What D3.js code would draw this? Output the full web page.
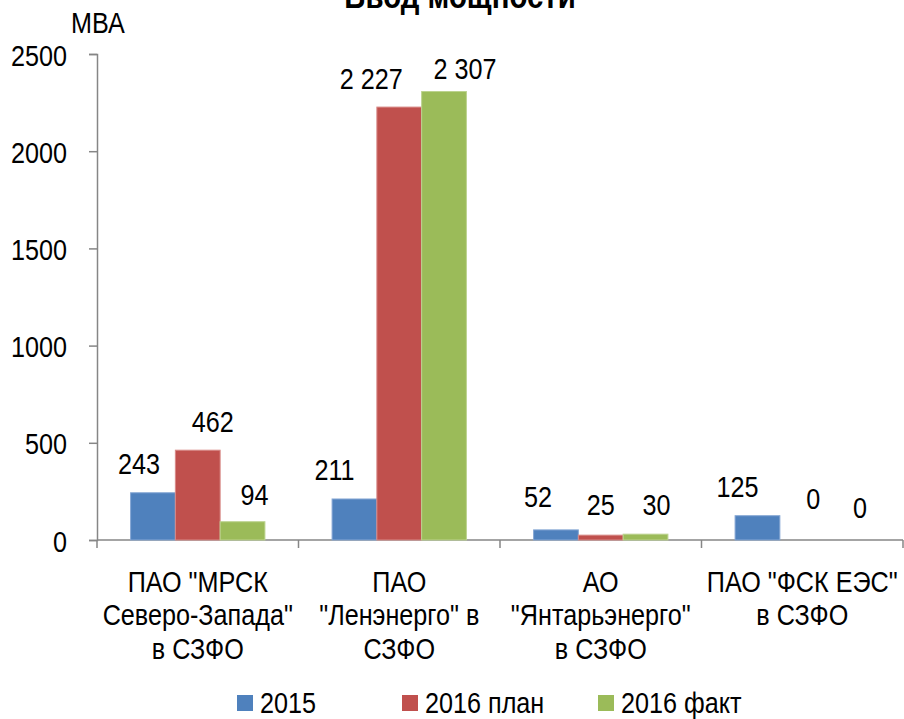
<!DOCTYPE html>
<html>
<head>
<meta charset="utf-8">
<script src="https://cdn.jsdelivr.net/npm/d3@7"></script>
<style>
  body { margin: 0; background: #fff; }
  svg text { font-family: "Liberation Sans", Arial, sans-serif; fill: #000; }
</style>
</head>
<body>
<svg id="chart" width="904" height="719"></svg>
<script>
// data
const companies = [
  ['ПАО "МРСК', 'Северо-Запада"', 'в СЗФО'],
  ['ПАО', '"Ленэнерго" в', 'СЗФО'],
  ['АО', '"Янтарьэнерго"', 'в СЗФО'],
  ['ПАО "ФСК ЕЭС"', 'в СЗФО']
];
const seriesNames = ['2015', '2016 план', '2016 факт'];
const values2015 = [243, 211, 52, 125];
const valuesPlan = [462, 2227, 25, 0];
const valuesFact = [94, 2307, 30, 0];
const yTicks = [0, 500, 1000, 1500, 2000, 2500];

// hand-placed label nudges in the original, [dx, dy] per bar
const labelNudge = [
  [[-14, 0], [15, 1], [12, 2]],
  [[-20, 0], [-28, 1], [21, 6]],
  [[-18, -4], [0, -1], [11, 0]],
  [[-20, 0], [11, -12], [13, -3]]
];

const colors = ['#4F81BD', '#C0504D', '#9BBB59'];
const edges = ['#86a7d4', '#d88b89', '#bcd38f'];

const width = 904, height = 719;
const margin = { top: 54, right: 1, bottom: 179, left: 97 };
const sx = 0.84;      // the source font is a narrow face
const fs = '30px';

const svg = d3.select('#chart');

// put a text at (x, y) squeezed horizontally
function narrow(sel, x, y) {
  sel.attr('x', 0).attr('y', 0)
    .attr('transform', `translate(${x},${y}) scale(${sx},1)`);
  return sel;
}

const x0 = d3.scaleBand()
  .domain(d3.range(companies.length))
  .range([margin.left, width - margin.right])
  .paddingInner(1 / 3)
  .paddingOuter(1 / 6);

const x1 = d3.scaleBand()
  .domain(d3.range(seriesNames.length))
  .range([0, x0.bandwidth()]);

const y = d3.scaleLinear()
  .domain([0, 2500])
  .range([height - margin.bottom, margin.top]);

const series = [values2015, valuesPlan, valuesFact];

// title (cut off at the top like the source)
svg.append('text')
  .attr('text-anchor', 'middle')
  .style('font-size', '35px')
  .style('font-weight', 'bold')
  .text('Ввод мощности')
  .call(narrow, 460, 8);

svg.append('text')
  .style('font-size', fs)
  .text('МВА')
  .call(narrow, 71, 33);

// y axis
const yAxis = svg.append('g')
  .attr('transform', `translate(${margin.left},0)`)
  .call(d3.axisLeft(y).tickValues(yTicks).tickSize(8).tickFormat(d3.format('d')));
yAxis.attr('font-family', null).attr('font-size', null);
yAxis.select('.domain').attr('stroke', '#868686').attr('stroke-width', 1.5);
yAxis.selectAll('.tick line').attr('stroke', '#868686').attr('stroke-width', 1.5);
yAxis.selectAll('.tick text')
  .style('font-size', fs)
  .attr('fill', '#000')
  .attr('x', 0).attr('dy', null).attr('y', 0)
  .attr('transform', `translate(-30,11) scale(${sx},1)`);

// x axis with ticks between categories
const step = x0.step();
const xEdges = d3.range(companies.length + 1).map(i => margin.left + i * step);
const xAxis = svg.append('g')
  .attr('transform', `translate(0,${y(0)})`);
xAxis.append('line')
  .attr('x1', margin.left).attr('x2', width - margin.right)
  .attr('stroke', '#868686').attr('stroke-width', 1.5);
xAxis.selectAll('.xt')
  .data(xEdges)
  .enter().append('line')
  .attr('class', 'xt')
  .attr('x1', d => d).attr('x2', d => d)
  .attr('y1', 0).attr('y2', 8)
  .attr('stroke', '#868686').attr('stroke-width', 1.5);

// bars and value labels
const groups = svg.selectAll('.grp')
  .data(companies)
  .enter().append('g')
  .attr('class', 'grp')
  .attr('transform', (d, i) => `translate(${x0(i)},0)`);

groups.each(function (c, ci) {
  const g = d3.select(this);
  series.forEach((vals, si) => {
    const v = vals[ci];
    if (v > 0) {
      g.append('rect')
        .attr('x', x1(si))
        .attr('y', y(v))
        .attr('width', x1.bandwidth())
        .attr('height', y(0) - y(v))
        .attr('fill', colors[si])
        .attr('stroke', edges[si])
        .attr('stroke-width', 1);
    }
    const nudge = labelNudge[ci][si];
    g.append('text')
      .attr('text-anchor', 'middle')
      .style('font-size', fs)
      .text(d3.format(',')(v).replace(/,/g, ' '))
      .call(narrow, x1(si) + x1.bandwidth() / 2 + nudge[0], y(v) - 19 + nudge[1]);
  });
});

// category labels
svg.selectAll('.cat')
  .data(companies)
  .enter().append('text')
  .attr('class', 'cat')
  .attr('text-anchor', 'middle')
  .style('font-size', fs)
  .attr('transform', (d, i) => `translate(${x0(i) + x0.bandwidth() / 2},0) scale(${sx},1)`)
  .each(function (lines) {
    const t = d3.select(this);
    lines.forEach((ln, k) => {
      t.append('tspan')
        .attr('x', 0)
        .attr('y', 592 + k * 33.5)
        .text(ln);
    });
  });

// legend
const legendX = [237, 402, 598];
const legend = svg.selectAll('.leg')
  .data(seriesNames)
  .enter().append('g')
  .attr('class', 'leg')
  .attr('transform', (d, i) => `translate(${legendX[i]},703)`);
legend.append('rect')
  .attr('x', 0).attr('y', -8)
  .attr('width', 16).attr('height', 16)
  .attr('fill', (d, i) => colors[i]);
legend.append('text')
  .style('font-size', fs)
  .text(d => d)
  .call(narrow, 23, 10);
</script>
</body>
</html>
